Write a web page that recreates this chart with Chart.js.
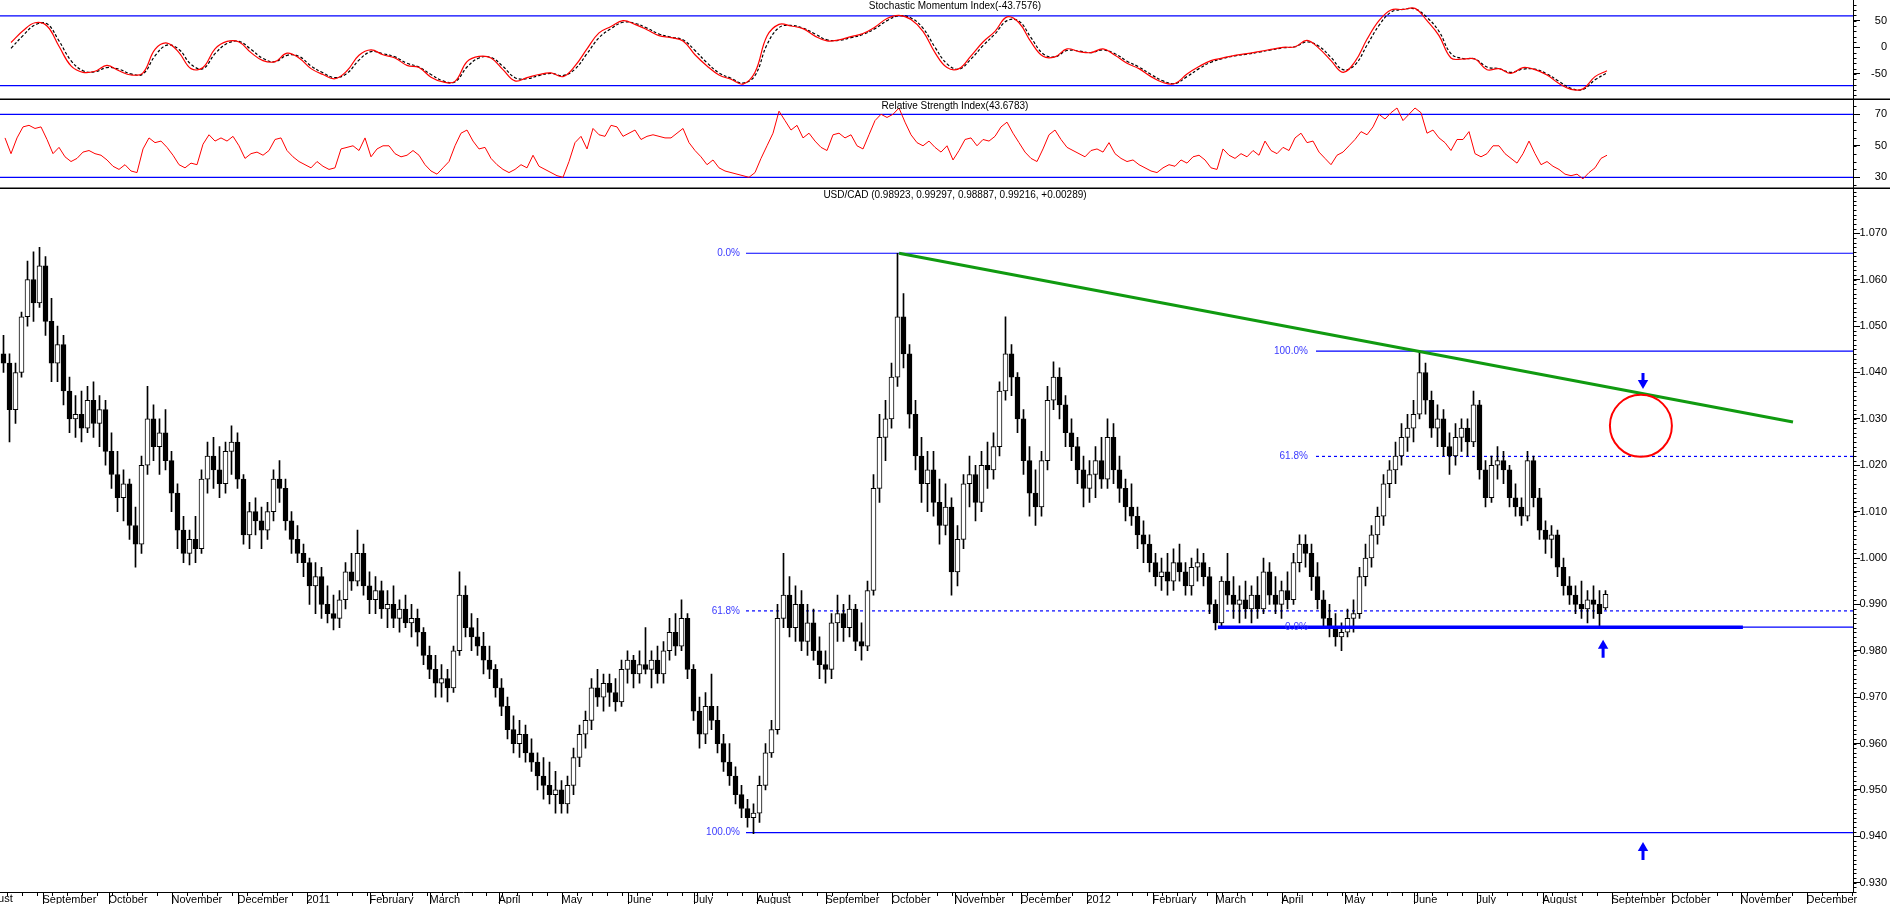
<!DOCTYPE html>
<html>
<head>
<meta charset="utf-8">
<title>USD/CAD</title>
<script src="https://cdn.jsdelivr.net/npm/chart.js@4.4.1/dist/chart.umd.min.js"></script>
<style>
  html, body { margin: 0; padding: 0; background: #fff; overflow: hidden; }
  #wrap { position: relative; width: 1890px; height: 904px; }
</style>
</head>
<body>
<div id="wrap"><canvas id="chart" width="1890" height="904"></canvas></div>
<script>
// x values are trading-day numbers (0 = first bar on the chart)
const monthPos = [13.5, 35.5, 56.5, 78.5, 101.5, 122.5, 142.5, 165.5, 186.5, 208.5, 230.5, 251.5,
  274.5, 296.5, 317.5, 339.5, 361.5, 383.5, 404.5, 426.5, 447.5, 470.5, 491.5, 513.5, 536.5, 556.5, 579.5, 601.5];
const monthNames = ['September', 'October', 'November', 'December', '2011', 'February', 'March', 'April',
  'May', 'June', 'July', 'August', 'September', 'October', 'November', 'December', '2012', 'February', 'March',
  'April', 'May', 'June', 'July', 'August', 'September', 'October', 'November', 'December'];
// month that starts before the first bar (only its tail shows)
const firstMonth = {pos: -8.5, name: 'August'};

const smiTicks = [-50, 0, 50];
const rsiTicks = [30, 40, 50, 60, 70];
const priceTicks = [0.930, 0.935, 0.940, 0.945, 0.950, 0.955, 0.960, 0.965, 0.970, 0.975, 0.980, 0.985, 0.990,
  0.995, 1.000, 1.005, 1.010, 1.015, 1.020, 1.025, 1.030, 1.035, 1.040, 1.045, 1.050, 1.055, 1.060, 1.065, 1.070];

// two-day candles [open, high, low, close]
const bars2010 = [
  [1.0440,1.0480,1.0400,1.0420],[1.0420,1.0440,1.0250,1.0320],[1.0320,1.0420,1.0290,1.0400],[1.0400,1.0530,1.0390,1.0520],
  [1.0520,1.0640,1.0500,1.0600],[1.0600,1.0660,1.0510,1.0550],[1.0550,1.0670,1.0540,1.0630],[1.0630,1.0650,1.0480,1.0510],
  [1.0510,1.0560,1.0380,1.0420],[1.0420,1.0500,1.0380,1.0460],[1.0460,1.0480,1.0330,1.0360],[1.0360,1.0390,1.0270,1.0300],
  [1.0300,1.0350,1.0260,1.0310],[1.0310,1.0360,1.0250,1.0280],[1.0280,1.0370,1.0270,1.0340],[1.0340,1.0380,1.0260,1.0290],
  [1.0290,1.0350,1.0240,1.0320],[1.0320,1.0340,1.0200,1.0230],[1.0230,1.0270,1.0150,1.0180],[1.0180,1.0230,1.0100,1.0130],
  [1.0130,1.0190,1.0080,1.0160],[1.0160,1.0170,1.0040,1.0070],[1.0070,1.0110,0.9980,1.0030],[1.0030,1.0220,1.0010,1.0200],
  [1.0200,1.0370,1.0180,1.0300],[1.0300,1.0330,1.0210,1.0240],[1.0240,1.0300,1.0180,1.0270],[1.0270,1.0320,1.0190,1.0210],
  [1.0210,1.0230,1.0100,1.0140],[1.0140,1.0160,1.0020,1.0060],[1.0060,1.0090,0.9990,1.0010],[1.0010,1.0060,0.9985,1.0040],
  [1.0040,1.0090,0.9990,1.0020],[1.0020,1.0190,1.0010,1.0170],[1.0170,1.0250,1.0140,1.0220],[1.0220,1.0260,1.0150,1.0190],
  [1.0190,1.0240,1.0130,1.0160],[1.0160,1.0250,1.0140,1.0230],[1.0230,1.0285,1.0180,1.0250],[1.0250,1.0270,1.0150,1.0170],
  [1.0170,1.0180,1.0030,1.0050],[1.0050,1.0120,1.0020,1.0100],[1.0100,1.0130,1.0050,1.0080],[1.0080,1.0110,1.0020,1.0060],
  [1.0060,1.0120,1.0040,1.0100],[1.0100,1.0190,1.0080,1.0170],[1.0170,1.0210,1.0120,1.0150],[1.0150,1.0170,1.0060,1.0080],
  [1.0080,1.0100,1.0010,1.0040],[1.0040,1.0070,0.9990,1.0010],[1.0010,1.0030,0.9960,0.9990]
];
const bars2011 = [
  [0.9990,1.0000,0.9900,0.9940],[0.9940,0.9990,0.9880,0.9960],[0.9960,0.9980,0.9870,0.9900],[0.9900,0.9940,0.9860,0.9880],
  [0.9880,0.9920,0.9845,0.9870],[0.9870,0.9930,0.9850,0.9910],[0.9910,0.9990,0.9890,0.9970],[0.9970,1.0010,0.9930,0.9950],
  [0.9950,1.0060,0.9940,1.0010],[1.0010,1.0030,0.9920,0.9940],[0.9940,0.9970,0.9880,0.9910],[0.9910,0.9960,0.9880,0.9930],
  [0.9930,0.9950,0.9870,0.9890],[0.9890,0.9930,0.9850,0.9900],[0.9900,0.9940,0.9850,0.9870],[0.9870,0.9910,0.9840,0.9890],
  [0.9890,0.9920,0.9850,0.9860],[0.9860,0.9900,0.9830,0.9870],[0.9870,0.9890,0.9810,0.9840],[0.9840,0.9850,0.9770,0.9790],
  [0.9790,0.9810,0.9740,0.9760],[0.9760,0.9790,0.9700,0.9730],[0.9730,0.9770,0.9700,0.9740],[0.9740,0.9760,0.9690,0.9720],
  [0.9720,0.9810,0.9710,0.9800],[0.9800,0.9970,0.9790,0.9920],[0.9920,0.9940,0.9830,0.9850],[0.9850,0.9880,0.9800,0.9830],
  [0.9830,0.9870,0.9790,0.9810],[0.9810,0.9840,0.9750,0.9780],[0.9780,0.9810,0.9740,0.9760],[0.9760,0.9770,0.9700,0.9720],
  [0.9720,0.9740,0.9660,0.9680],[0.9680,0.9700,0.9610,0.9630],[0.9630,0.9660,0.9580,0.9600],[0.9600,0.9650,0.9570,0.9620],
  [0.9620,0.9640,0.9560,0.9580],[0.9580,0.9610,0.9540,0.9560],[0.9560,0.9580,0.9500,0.9530],[0.9530,0.9570,0.9480,0.9510],
  [0.9510,0.9560,0.9470,0.9490],[0.9490,0.9540,0.9450,0.9500],[0.9500,0.9520,0.9450,0.9470],[0.9470,0.9530,0.9450,0.9510],
  [0.9510,0.9590,0.9490,0.9570],[0.9570,0.9640,0.9550,0.9620],[0.9620,0.9670,0.9590,0.9650],[0.9650,0.9740,0.9630,0.9720],
  [0.9720,0.9760,0.9680,0.9700],[0.9700,0.9750,0.9670,0.9730],[0.9730,0.9750,0.9680,0.9710],[0.9710,0.9740,0.9670,0.9690],
  [0.9690,0.9780,0.9680,0.9760],[0.9760,0.9800,0.9730,0.9780],[0.9780,0.9790,0.9720,0.9750],[0.9750,0.9800,0.9730,0.9770],
  [0.9770,0.9850,0.9750,0.9760],[0.9760,0.9800,0.9720,0.9780],[0.9780,0.9810,0.9730,0.9750],[0.9750,0.9820,0.9730,0.9800],
  [0.9800,0.9870,0.9780,0.9840],[0.9840,0.9880,0.9790,0.9810],[0.9810,0.9910,0.9800,0.9870],[0.9870,0.9880,0.9740,0.9760],
  [0.9760,0.9770,0.9650,0.9670],[0.9670,0.9700,0.9590,0.9620],[0.9620,0.9710,0.9600,0.9680],[0.9680,0.9750,0.9630,0.9650],
  [0.9650,0.9680,0.9580,0.9600],[0.9600,0.9620,0.9540,0.9560],[0.9560,0.9600,0.9510,0.9530],[0.9530,0.9550,0.9470,0.9490],
  [0.9490,0.9510,0.9440,0.9460],[0.9460,0.9480,0.9420,0.9440],[0.9440,0.9470,0.9406,0.9450],[0.9450,0.9530,0.9430,0.9510],
  [0.9510,0.9600,0.9500,0.9580],[0.9580,0.9650,0.9570,0.9630],[0.9630,0.9900,0.9620,0.9870],[0.9870,1.0010,0.9850,0.9920],
  [0.9920,0.9960,0.9830,0.9850],[0.9850,0.9940,0.9820,0.9900],[0.9900,0.9930,0.9800,0.9820],[0.9820,0.9900,0.9790,0.9860],
  [0.9860,0.9890,0.9780,0.9800],[0.9800,0.9830,0.9740,0.9770],[0.9770,0.9800,0.9730,0.9760],[0.9760,0.9880,0.9740,0.9860],
  [0.9860,0.9920,0.9820,0.9880],[0.9880,0.9900,0.9820,0.9850],[0.9850,0.9920,0.9830,0.9890],[0.9890,0.9900,0.9800,0.9820],
  [0.9820,0.9860,0.9780,0.9810],[0.9810,0.9950,0.9800,0.9930],[0.9930,1.0180,0.9920,1.0150],[1.0150,1.0310,1.0120,1.0260],
  [1.0260,1.0340,1.0210,1.0300],[1.0300,1.0420,1.0280,1.0390],[1.0390,1.0657,1.0370,1.0520],[1.0520,1.0570,1.0410,1.0440],
  [1.0440,1.0460,1.0280,1.0310],[1.0310,1.0340,1.0190,1.0220],[1.0220,1.0260,1.0120,1.0160],[1.0160,1.0230,1.0100,1.0190],
  [1.0190,1.0230,1.0090,1.0120],[1.0120,1.0170,1.0030,1.0070],[1.0070,1.0160,1.0050,1.0110],[1.0110,1.0130,0.9920,0.9970],
  [0.9970,1.0070,0.9940,1.0040],[1.0040,1.0180,1.0020,1.0160],[1.0160,1.0220,1.0110,1.0180],[1.0180,1.0200,1.0080,1.0120],
  [1.0120,1.0230,1.0100,1.0200],[1.0200,1.0250,1.0150,1.0190],[1.0190,1.0270,1.0170,1.0240],[1.0240,1.0380,1.0220,1.0360],
  [1.0360,1.0520,1.0340,1.0440],[1.0440,1.0460,1.0350,1.0390],[1.0390,1.0400,1.0270,1.0300],[1.0300,1.0320,1.0180,1.0210],
  [1.0210,1.0240,1.0090,1.0140],[1.0140,1.0190,1.0070,1.0110],[1.0110,1.0230,1.0090,1.0210],[1.0210,1.0370,1.0190,1.0340],
  [1.0340,1.0423,1.0320,1.0390],[1.0390,1.0410,1.0300,1.0330],[1.0330,1.0350,1.0240,1.0270],[1.0270,1.0300,1.0210,1.0240],
  [1.0240,1.0260,1.0160,1.0190],[1.0190,1.0220,1.0110,1.0150]
];
const bars2012 = [
  [1.0150,1.0210,1.0120,1.0180],[1.0180,1.0240,1.0130,1.0210],[1.0210,1.0260,1.0150,1.0170],[1.0170,1.0300,1.0150,1.0260],
  [1.0260,1.0290,1.0160,1.0190],[1.0190,1.0220,1.0120,1.0150],[1.0150,1.0170,1.0080,1.0110],[1.0110,1.0160,1.0070,1.0090],
  [1.0090,1.0110,1.0020,1.0050],[1.0050,1.0080,0.9990,1.0030],[1.0030,1.0050,0.9970,0.9990],[0.9990,1.0010,0.9940,0.9960],
  [0.9960,1.0000,0.9930,0.9970],[0.9970,1.0010,0.9920,0.9950],[0.9950,1.0020,0.9930,0.9990],[0.9990,1.0030,0.9950,0.9970],
  [0.9970,0.9990,0.9920,0.9940],[0.9940,1.0000,0.9920,0.9980],[0.9980,1.0020,0.9950,0.9990],[0.9990,1.0010,0.9940,0.9960],
  [0.9960,0.9980,0.9880,0.9900],[0.9900,0.9910,0.9845,0.9860],[0.9860,0.9960,0.9850,0.9950],[0.9950,1.0010,0.9900,0.9920],
  [0.9920,0.9960,0.9870,0.9900],[0.9900,0.9940,0.9860,0.9910],[0.9910,0.9950,0.9870,0.9890],[0.9890,0.9940,0.9860,0.9920],
  [0.9920,0.9960,0.9870,0.9890],[0.9890,1.0000,0.9880,0.9970],[0.9970,0.9990,0.9900,0.9920],[0.9920,0.9960,0.9880,0.9900],
  [0.9900,0.9950,0.9870,0.9930],[0.9930,0.9970,0.9890,0.9910],[0.9910,1.0010,0.9900,0.9990],[0.9990,1.0050,0.9970,1.0030],
  [1.0030,1.0050,0.9980,1.0010],[1.0010,1.0030,0.9930,0.9960],[0.9960,0.9990,0.9890,0.9910],[0.9910,0.9930,0.9850,0.9870],
  [0.9870,0.9900,0.9830,0.9850],[0.9850,0.9880,0.9810,0.9830],[0.9830,0.9860,0.9800,0.9840],[0.9840,0.9890,0.9830,0.9870],
  [0.9870,0.9910,0.9840,0.9880],[0.9880,0.9980,0.9870,0.9960],[0.9960,1.0030,0.9940,1.0000],[1.0000,1.0070,0.9980,1.0050],
  [1.0050,1.0110,1.0030,1.0090],[1.0090,1.0180,1.0070,1.0160],[1.0160,1.0210,1.0130,1.0190],[1.0190,1.0250,1.0160,1.0220],
  [1.0220,1.0290,1.0200,1.0260],[1.0260,1.0310,1.0230,1.0280],[1.0280,1.0340,1.0250,1.0310],[1.0310,1.0446,1.0300,1.0400],
  [1.0400,1.0420,1.0310,1.0340],[1.0340,1.0360,1.0260,1.0280],[1.0280,1.0330,1.0240,1.0300],[1.0300,1.0320,1.0220,1.0240],
  [1.0240,1.0270,1.0180,1.0220],[1.0220,1.0290,1.0200,1.0260],[1.0260,1.0300,1.0230,1.0280],[1.0280,1.0300,1.0220,1.0250],
  [1.0250,1.0360,1.0240,1.0330],[1.0330,1.0340,1.0170,1.0190],[1.0190,1.0210,1.0110,1.0130],[1.0130,1.0220,1.0120,1.0200],
  [1.0200,1.0240,1.0170,1.0210],[1.0210,1.0230,1.0160,1.0190],[1.0190,1.0200,1.0110,1.0130],[1.0130,1.0160,1.0090,1.0110],
  [1.0110,1.0130,1.0070,1.0090],[1.0090,1.0230,1.0080,1.0210],[1.0210,1.0220,1.0110,1.0130],[1.0130,1.0150,1.0040,1.0060],
  [1.0060,1.0080,1.0010,1.0040],[1.0040,1.0070,1.0000,1.0050],[1.0050,1.0060,0.9960,0.9980],[0.9980,1.0000,0.9920,0.9940],
  [0.9940,0.9960,0.9900,0.9920],[0.9920,0.9940,0.9880,0.9900],[0.9900,0.9950,0.9870,0.9890],[0.9890,0.9930,0.9860,0.9910],
  [0.9910,0.9940,0.9870,0.9900],[0.9900,0.9930,0.9850,0.9880],[0.98923,0.99297,0.98887,0.99216]
];

// Stochastic Momentum Index and its signal, one value every 4th day (day 3, 7, 11 ...)
const smi = [
  9, 31, 46, 40, 2, -35, -47, -45, -34, -44,
  -52, -48, -4, 8, -10, -40, -38, -3, 11, 10,
  -10, -25, -27, -11, -20, -40, -51, -59, -44, -15,
  -5, -14, -20, -34, -38, -56, -65, -64, -27, -17,
  -20, -42, -63, -57, -51, -48, -55, -35, -3, 27,
  39, 50, 43, 33, 22, 18, 12, -14, -35, -52,
  -60, -69, -47, 21, 43, 40, 35, 21, 12, 14,
  20, 26, 38, 54, 60, 52, 30, -10, -38, -40,
  -16, 10, 30, 57, 46, 10, -17, -18, -3, -8,
  -10, -3, -15, -30, -40, -55, -66, -68, -50, -36,
  -25, -20, -15, -12, -8, -4, 0, 1, 13, -2,
  -25, -47, -27, 15, 50, 70, 71, 73, 50, 22,
  -20, -22, -22, -42, -40, -49, -38, -42, -52, -68,
  -79, -78, -55, -44
];
const smiSignal = [
  -2, 22, 42, 44, 12, -25, -44, -46, -38, -41,
  -50, -50, -16, 4, -4, -32, -40, -12, 7, 11,
  -4, -21, -27, -15, -17, -35, -48, -57, -49, -24,
  -8, -12, -18, -30, -37, -51, -63, -65, -37, -20,
  -19, -36, -57, -59, -53, -49, -53, -41, -12, 18,
  35, 47, 45, 36, 25, 19, 14, -6, -29, -48,
  -58, -67, -53, 5, 37, 41, 36, 25, 14, 13,
  18, 24, 35, 50, 59, 55, 36, 0, -31, -41,
  -22, 3, 25, 50, 49, 18, -12, -18, -6, -7,
  -10, -5, -12, -26, -37, -51, -63, -68, -55, -40,
  -28, -21, -16, -13, -9, -5, -1, 1, 10, 2,
  -19, -42, -33, 4, 41, 66, 71, 72, 56, 30,
  -12, -21, -22, -37, -40, -47, -41, -41, -50, -64,
  -77, -79, -61, -48
];

// Relative Strength Index, one value every 2nd day (day 1, 3, 5 ...)
const rsi = [
  55, 45, 55, 62, 63, 61, 62, 54, 45, 49,
  43, 40, 42, 46, 47, 45, 44, 41, 37, 35,
  38, 34, 33, 48, 55, 52, 53, 49, 44, 38,
  36, 39, 38, 51, 57, 53, 55, 53, 56, 50,
  42, 45, 46, 44, 47, 54, 55, 47, 43, 40,
  38, 36, 40, 37, 35, 36, 48, 49, 50, 47,
  55, 43, 48, 50, 50, 45, 43, 44, 47, 44,
  38, 34, 32, 36, 40, 50, 58, 60, 53, 48,
  49, 42, 38, 35, 33, 35, 38, 36, 44, 37,
  35, 33, 31, 30, 40, 52, 56, 48, 61, 57,
  56, 63, 62, 56, 58, 60, 54, 56, 57, 56,
  55, 55, 58, 61, 52, 47, 43, 38, 41, 36,
  34, 33, 32, 31, 30, 33, 42, 50, 58, 72,
  66, 60, 63, 55, 58, 53, 49, 47, 57, 58,
  55, 57, 50, 48, 57, 66, 70, 68, 70, 74,
  65, 57, 52, 50, 53, 49, 46, 50, 41, 47,
  54, 55, 50, 54, 53, 56, 62, 65, 58, 52,
  46, 42, 40, 48, 57, 60, 54, 49, 47, 45,
  43, 47, 48, 46, 52, 45, 42, 40, 41, 38,
  36, 34, 33, 36, 38, 37, 41, 39, 43, 44,
  41, 36, 35, 48, 44, 42, 45, 43, 47, 44,
  53, 47, 45, 49, 47, 55, 58, 52, 53, 46,
  42, 38, 44, 46, 50, 54, 59, 57, 62, 70,
  67, 71, 74, 66, 70, 74, 71, 58, 60, 55,
  52, 47, 54, 54, 59, 45, 43, 45, 50, 50,
  45, 42, 39, 45, 53, 45, 38, 40, 37, 35,
  32, 31, 32, 29, 33, 36, 42, 44
];

const smiLevels = [59, -72];
const rsiLevels = [70, 30];

// Fibonacci retracements drawn on the price pane
const fib1Levels = [1.0657, 0.9886, 0.9408];
const fib1Text = ['0.0%', '61.8%', '100.0%'];
const fib2Levels = [1.0446, 1.0219, 0.9851];
const fib2Text = ['100.0%', '61.8%', '0.0%'];

const titles = [
  'Stochastic Momentum Index(-43.7576)',
  'Relative Strength Index(43.6783)',
  'USD/CAD (0.98923, 0.99297, 0.98887, 0.99216, +0.00289)'
];

const X_MIN = -2 / 3, X_MAX = X_MIN + 1853 / 3;
const FONT = '"Liberation Sans", Arial, sans-serif';
const BLUE = '#0000ff';

const bars = bars2010.concat(bars2011, bars2012);

function hline(axis, x0, x1, y, color, width, dash) {
  return {
    type: 'line', yAxisID: axis, data: [{x: x0, y: y}, {x: x1, y: y}],
    borderColor: color, borderWidth: width, borderDash: dash || [], pointRadius: 0, order: 6
  };
}
function segment(axis, p0, p1, color, width, order) {
  return {
    type: 'line', yAxisID: axis, data: [p0, p1],
    borderColor: color, borderWidth: width, pointRadius: 0, order: order
  };
}

const datasets = [];

// indicator panes
smiLevels.forEach(v => datasets.push(hline('ySmi', X_MIN, X_MAX, v, BLUE, 1.2)));
datasets.push({
  type: 'line', yAxisID: 'ySmi', data: smiSignal.map((v, i) => ({x: 4 * i + 3, y: v})),
  borderColor: '#000', borderWidth: 1.2, borderDash: [3, 2], pointRadius: 0, tension: 0.4, order: 5
});
datasets.push({
  type: 'line', yAxisID: 'ySmi', data: smi.map((v, i) => ({x: 4 * i + 3, y: v})),
  borderColor: '#ff0000', borderWidth: 1.2, pointRadius: 0, tension: 0.4, order: 4
});
rsiLevels.forEach(v => datasets.push(hline('yRsi', X_MIN, X_MAX, v, BLUE, 1.2)));
datasets.push({
  type: 'line', yAxisID: 'yRsi', data: rsi.map((v, i) => ({x: 2 * i + 1, y: v})),
  borderColor: '#ff0000', borderWidth: 1, pointRadius: 0, order: 4
});

// fib lines
fib1Levels.forEach((v, i) => datasets.push(hline('yPx', 248, X_MAX, v, BLUE, 1.2, i === 1 ? [3, 3] : null)));
fib2Levels.forEach((v, i) => datasets.push(hline('yPx', 438, X_MAX, v, BLUE, 1.2, i === 1 ? [3, 3] : null)));

// candles: wick behind, body on top
datasets.push({
  type: 'bar', yAxisID: 'yPx', data: bars.map((b, i) => ({x: 2 * i + 0.5, y: [b[2], b[1]]})),
  backgroundColor: '#000', borderWidth: 0, barThickness: 1, grouped: false, order: 3
});
datasets.push({
  type: 'bar', yAxisID: 'yPx', data: bars.map((b, i) => ({x: 2 * i + 0.5, y: [b[0], b[3]]})),
  backgroundColor: bars.map(b => b[3] >= b[0] ? '#ffffff' : '#000000'),
  borderColor: '#000', borderWidth: 1, borderSkipped: false, barThickness: 5, grouped: false, order: 2
});

// drawn support / resistance
datasets.push(segment('yPx', {x: 405.3, y: 0.9851}, {x: 580.3, y: 0.9851}, BLUE, 3.5, 1));
datasets.push(segment('yPx', {x: 299, y: 1.0657}, {x: 597, y: 1.0293}, '#109a10', 3, 1));
datasets.push({
  type: 'bubble', yAxisID: 'yPx', data: [{x: 546.3, y: 1.0285, r: 31}],
  borderColor: '#ff0000', borderWidth: 2, backgroundColor: 'rgba(0,0,0,0)', order: 0
});

// arrows: shaft + triangle head
const arrows = [
  {x: 547, head: 1.03773, from: 1.0399, to: 1.0380, rot: 180},
  {x: 533.7, head: 0.98110, from: 0.98067, to: 0.97851, rot: 0},
  {x: 547, head: 0.93749, from: 0.93706, to: 0.93491, rot: 0}
];
arrows.forEach(a => datasets.push(segment('yPx', {x: a.x, y: a.from}, {x: a.x, y: a.to}, BLUE, 3, 0)));
datasets.push({
  type: 'line', yAxisID: 'yPx', showLine: false, data: arrows.map(a => ({x: a.x, y: a.head})),
  pointStyle: 'triangle', pointRadius: 6, pointRotation: arrows.map(a => a.rot),
  pointBackgroundColor: BLUE, pointBorderColor: BLUE, pointBorderWidth: 0, order: 0
});

function fitRight(s) { s.width = 34; s.paddingTop = 0; s.paddingBottom = 0; s.paddingLeft = 0; s.paddingRight = 0; }
function yAxis(weight, min, max, tickValues, fmt) {
  return {
    type: 'linear', position: 'right', stack: 'panes', stackWeight: weight,
    min: min, max: max, beginAtZero: false,
    afterBuildTicks: s => { s.ticks = tickValues.map(v => ({value: v})); },
    afterFit: fitRight,
    ticks: {callback: fmt, crossAlign: 'far', padding: 3, color: '#000', font: {family: FONT, size: 11}},
    grid: {drawOnChartArea: false, drawTicks: true, tickLength: 7, color: '#000'},
    border: {display: true, color: '#000', width: 1}
  };
}

const decor = {
  id: 'decor',
  afterDraw(chart) {
    const ctx = chart.ctx;
    const sx = chart.scales.x, sS = chart.scales.ySmi, sR = chart.scales.yRsi, sP = chart.scales.yPx;
    ctx.save();
    ctx.strokeStyle = '#000';
    const line = (x0, y0, x1, y1) => { ctx.beginPath(); ctx.moveTo(x0, y0); ctx.lineTo(x1, y1); ctx.stroke(); };

    // pane separators
    ctx.lineWidth = 1.5;
    [sS.bottom, sR.bottom].forEach(y => line(0, y, chart.width, y));

    // minor ticks on the value axes
    ctx.lineWidth = 1;
    const minor = (s, step) => {
      const x0 = Math.round(s.left) + 0.5;
      for (let n = Math.ceil(s.min / step); n * step <= s.max; n++) {
        const y = Math.round(s.getPixelForValue(n * step)) + 0.5;
        line(x0, y, x0 + 3, y);
      }
    };
    minor(sS, 10);
    minor(sR, 5);
    minor(sP, 0.001);

    // month separators and weekly ticks on the time axis
    const yb = sx.top;
    monthPos.forEach(v => {
      const x = Math.round(sx.getPixelForValue(v)) + 0.5;
      line(x, yb, x, chart.height);
    });
    for (let v = 1.5; v < sx.max; v += 5) {
      const x = Math.round(sx.getPixelForValue(v)) + 0.5;
      line(x, yb, x, yb + 4);
    }
    // tail of the month label that starts left of the plot
    ctx.font = '11px ' + FONT;
    ctx.fillStyle = '#000';
    ctx.textAlign = 'left';
    ctx.textBaseline = 'top';
    ctx.fillText(firstMonth.name, sx.getPixelForValue(firstMonth.pos) + 2, yb + 1);

    // pane titles
    ctx.font = '10px ' + FONT;
    ctx.textAlign = 'center';
    ctx.fillText(titles[0], 955, 1);
    ctx.fillText(titles[1], 955, sR.top + 2);
    ctx.fillText(titles[2], 955, sP.top + 2);

    // fib labels
    ctx.fillStyle = '#3a3aff';
    ctx.textAlign = 'right';
    ctx.textBaseline = 'middle';
    fib1Levels.forEach((v, i) => ctx.fillText(fib1Text[i], sx.getPixelForValue(246), sP.getPixelForValue(v)));
    fib2Levels.forEach((v, i) => ctx.fillText(fib2Text[i], sx.getPixelForValue(435.3), sP.getPixelForValue(v)));
    ctx.restore();
  }
};

new Chart(document.getElementById('chart'), {
  type: 'bar',
  data: {datasets: datasets},
  options: {
    responsive: false,
    animation: false,
    devicePixelRatio: 1,
    layout: {autoPadding: false, padding: {left: 0, right: 3, top: 0, bottom: 0}},
    plugins: {legend: {display: false}, tooltip: {enabled: false}},
    scales: {
      x: {
        type: 'linear', min: X_MIN, max: X_MAX, offset: false,
        afterBuildTicks: s => { s.ticks = monthPos.map(v => ({value: v})); },
        afterFit: s => { s.height = 12; s.paddingLeft = 0; s.paddingRight = 0; },
        ticks: {
          callback: (v, i) => monthNames[i], align: 'start', autoSkip: false, maxRotation: 0,
          padding: 1, color: '#000', font: {family: FONT, size: 11}
        },
        grid: {drawOnChartArea: false, drawTicks: false, offset: false},
        border: {display: true, color: '#000', width: 1}
      },
      ySmi: yAxis(99.3, -97.56, 88.74, smiTicks, v => String(v)),
      yRsi: yAxis(89, 23.01, 79.52, rsiTicks, v => String(v)),
      yPx: yAxis(703.7, 0.9280, 1.0797, priceTicks, v => v.toFixed(3))
    }
  },
  plugins: [decor]
});
</script>
</body>
</html>
